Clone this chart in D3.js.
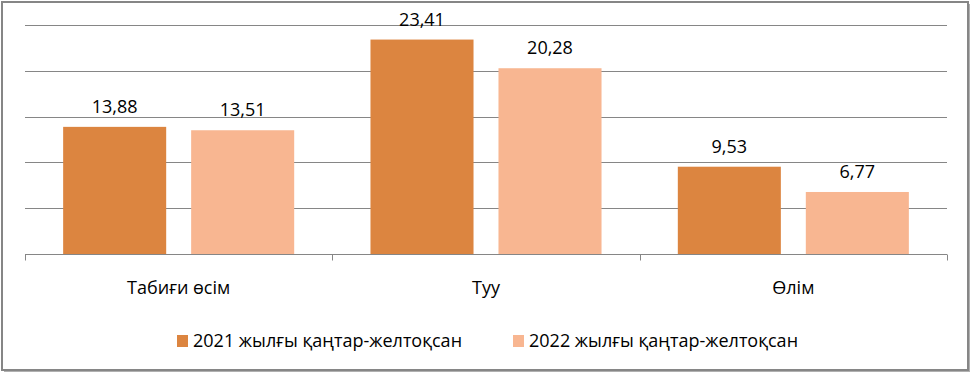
<!DOCTYPE html>
<html>
<head>
<meta charset="utf-8">
<script src="https://cdn.jsdelivr.net/npm/d3@7"></script>
<style>
  body { margin: 0; background: #fff; }
  svg { font-family: "Open Sans", "Noto Sans", sans-serif; }
</style>
</head>
<body>
<svg id="chart"></svg>
<script>
var categories = ["Табиғи өсім", "Туу", "Өлім"];
var seriesNames = ["2021 жылғы қаңтар-желтоқсан", "2022 жылғы қаңтар-желтоқсан"];
var values2021 = [13.88, 23.41, 9.53];
var values2022 = [13.51, 20.28, 6.77];
var yTicks = [0, 5, 10, 15, 20, 25];

var colors = ["#dc8540", "#f8b691"];

var width = 973, height = 375;
var plot = { left: 25, right: 947, top: 25, bottom: 254 };

var svg = d3.select("#chart")
    .attr("width", width)
    .attr("height", height);

// frame with a small shadow
svg.append("rect")
    .attr("x", 4).attr("y", 4)
    .attr("width", 966).attr("height", 368)
    .attr("fill", "#b0b0b0");
svg.append("rect")
    .attr("x", 2).attr("y", 2)
    .attr("width", 966).attr("height", 368)
    .attr("fill", "#fff")
    .attr("stroke", "#868686")
    .attr("stroke-width", 2);

var x0 = d3.scaleBand()
    .domain(categories)
    .range([plot.left, plot.right]);

var x1 = d3.scaleBand()
    .domain(d3.range(seriesNames.length))
    .range([0, x0.bandwidth()])
    .paddingInner(0.195)
    .paddingOuter(0.298);

var y = d3.scaleLinear()
    .domain([0, 25])
    .range([plot.bottom, plot.top]);

// gridlines
svg.append("g")
    .selectAll("line")
    .data(yTicks.slice(1))
    .join("line")
    .attr("x1", plot.left).attr("x2", plot.right)
    .attr("y1", d => Math.round(y(d)) + 0.5)
    .attr("y2", d => Math.round(y(d)) + 0.5)
    .attr("stroke", "#868686");

var rows = categories.map((c, i) => ({ cat: c, vals: [values2021[i], values2022[i]] }));

var groups = svg.append("g")
    .selectAll("g")
    .data(rows)
    .join("g")
    .attr("transform", d => "translate(" + x0(d.cat) + ",0)");

groups.selectAll("rect")
    .data(d => d.vals.map((v, k) => ({ v: v, k: k })))
    .join("rect")
    .attr("x", d => x1(d.k))
    .attr("width", x1.bandwidth())
    .attr("y", d => y(d.v))
    .attr("height", d => y(0) - y(d.v))
    .attr("fill", d => colors[d.k]);

groups.selectAll("text")
    .data(d => d.vals.map((v, k) => ({ v: v, k: k })))
    .join("text")
    .attr("x", d => x1(d.k) + x1.bandwidth() / 2)
    .attr("y", d => y(d.v) - 14)
    .attr("text-anchor", "middle")
    .attr("font-size", 18)
    .attr("fill", "#000")
    .text(d => d3.format(".2f")(d.v).replace(".", ","));

// x axis
var axisG = svg.append("g")
    .attr("transform", "translate(0," + (plot.bottom + 0.5) + ")");
axisG.append("line")
    .attr("x1", plot.left).attr("x2", plot.right)
    .attr("stroke", "#868686");
axisG.selectAll("line.tick")
    .data(d3.range(categories.length + 1))
    .join("line")
    .attr("class", "tick")
    .attr("x1", i => Math.round(plot.left + i * x0.step()) + 0.5)
    .attr("x2", i => Math.round(plot.left + i * x0.step()) + 0.5)
    .attr("y1", 0).attr("y2", 6)
    .attr("stroke", "#868686");
axisG.selectAll("text.cat")
    .data(categories)
    .join("text")
    .attr("class", "cat")
    .attr("x", d => x0(d) + x0.bandwidth() / 2)
    .attr("y", 39.5)
    .attr("text-anchor", "middle")
    .attr("font-size", 18)
    .attr("fill", "#000")
    .text(d => d);

// legend
var legendX = [177, 513];
var legend = svg.append("g")
    .selectAll("g")
    .data(seriesNames)
    .join("g")
    .attr("transform", (d, i) => "translate(" + legendX[i] + ",335)");
legend.append("rect")
    .attr("width", 11).attr("height", 12)
    .attr("fill", (d, i) => colors[i]);
legend.append("text")
    .attr("x", 16).attr("y", 12)
    .attr("font-size", 18)
    .attr("fill", "#000")
    .text(d => d);
</script>
</body>
</html>
